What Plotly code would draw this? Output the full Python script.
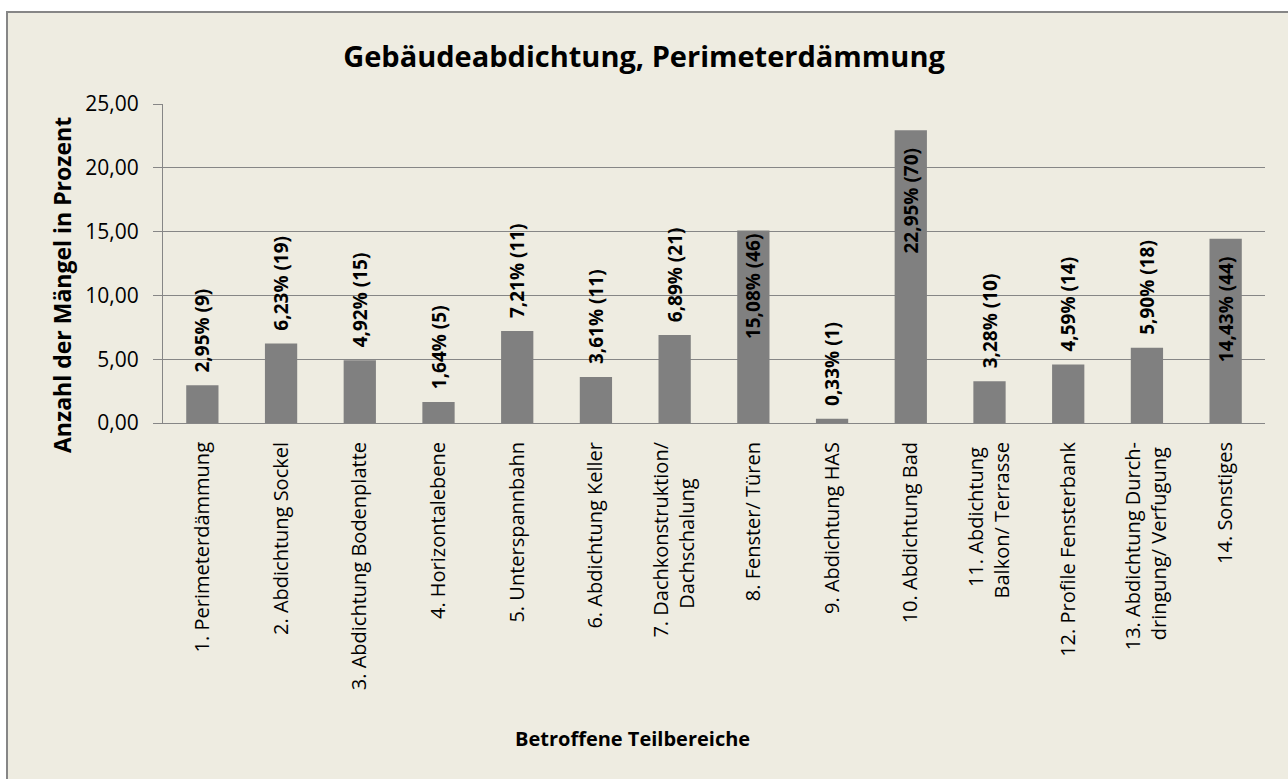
import plotly.graph_objects as go

categories = [
    "1. Perimeterdämmung",
    "2. Abdichtung Sockel",
    "3. Abdichtung Bodenplatte",
    "4. Horizontalebene",
    "5. Unterspannbahn",
    "6. Abdichtung Keller",
    "7. Dachkonstruktion/<br>Dachschalung",
    "8. Fenster/ Türen",
    "9. Abdichtung HAS",
    "10. Abdichtung Bad",
    "11. Abdichtung<br>Balkon/ Terrasse",
    "12. Profile Fensterbank",
    "13. Abdichtung Durch-<br>dringung/ Verfugung",
    "14. Sonstiges",
]
percent = [2.95, 6.23, 4.92, 1.64, 7.21, 3.61, 6.89, 15.08, 0.33, 22.95, 3.28, 4.59, 5.90, 14.43]
counts = [9, 19, 15, 5, 11, 11, 21, 46, 1, 70, 10, 14, 18, 44]

# label styling (Excel "inside end" for tall bars, outside otherwise)
label_pos = ["outside", "outside", "outside", "outside", "outside", "outside", "outside",
             "inside", "outside", "inside", "outside", "outside", "outside", "inside"]
label_pad_bottom = [2, 2, 2, 2, 2, 2, 2, 0, 2, 0, 2, 2, 2, 0]
label_pad_top = [0, 0, 0, 0, 0, 0, 0, 0, 0, 3, 0, 0, 0, 3]

title_text = "Gebäudeabdichtung, Perimeterdämmung"
y_title = "Anzahl der Mängel in Prozent"
x_title = "Betroffene Teilbereiche"

FONT = "Open Sans"
NB = "\u00a0"
W, H = 1288, 779
L, R, T, B = 163, 23, 104, 356
pw, ph = W - L - R, H - T - B

def px_x(x):
    return (x - L) / pw

def px_y(y):
    return (H - B - y) / ph

def center_lines(label, pads):
    parts = label.split("<br>")
    if len(parts) == 1:
        return label
    return "<br>".join(p + NB * n for p, n in zip(parts, pads))

tick_pads = {6: (0, 7), 10: (1, 0), 12: (0, 1)}
tick_text = [center_lines(c, tick_pads.get(i, (0, 0))) for i, c in enumerate(categories)]

templates = [NB * b + "%{y:.2f}% (%{customdata})" + NB * t
             for b, t in zip(label_pad_bottom, label_pad_top)]

xs = list(range(len(categories)))

fig = go.Figure()
fig.add_trace(go.Bar(
    x=xs,
    y=percent,
    customdata=counts,
    marker=dict(color="#808080", line=dict(width=0)),
    texttemplate=templates,
    textposition=label_pos,
    textangle=-90,
    insidetextanchor="end",
    constraintext="none",
    textfont=dict(family=FONT, size=19, color="#000000", weight="bold"),
    cliponaxis=False,
    hoverinfo="skip",
))

fig.update_layout(
    width=W, height=H,
    margin=dict(l=L, r=R, t=T, b=B, autoexpand=False),
    paper_bgcolor="#ffffff",
    plot_bgcolor="#c0c0c0",
    separators=",.",
    bargap=0.59,
    showlegend=False,
    title=dict(text=title_text, x=0.5, xanchor="center", xref="container",
               y=1 - 57 / H, yanchor="middle", yref="container",
               font=dict(family=FONT, size=29, color="#000000", weight="bold")),
    xaxis=dict(
        tickmode="array", tickvals=xs, ticktext=tick_text,
        tickangle=-90, range=[-0.5, len(categories) - 0.5],
        tickfont=dict(family=FONT, size=20, color="#000000"),
        showline=True, linecolor="#868686", linewidth=1,
        ticks="", showgrid=False, zeroline=False,
        ticklabelstandoff=10, automargin=False,
    ),
    yaxis=dict(
        range=[0, 25], dtick=5, tick0=0, tickformat=".2f",
        tickfont=dict(family=FONT, size=21, color="#000000"),
        showline=True, linecolor="#868686", linewidth=1,
        ticks="outside", ticklen=9, tickcolor="#868686",
        showgrid=True, gridcolor="#868686", gridwidth=1,
        zeroline=False, ticklabelstandoff=10, automargin=False,
    ),
    shapes=[dict(type="rect", xref="paper", yref="paper", layer="below",
                 x0=px_x(7), x1=px_x(W + 5), y0=px_y(H + 5), y1=px_y(12),
                 fillcolor="#eeece1", line=dict(color="#868686", width=2))],
    annotations=[
        dict(text=y_title, xref="paper", yref="paper", x=px_x(62), y=px_y(285),
             xanchor="center", yanchor="middle", textangle=-90, showarrow=False,
             font=dict(family=FONT, size=23, color="#000000", weight="bold")),
        dict(text=x_title, xref="paper", yref="paper", x=px_x(632), y=px_y(738),
             xanchor="center", yanchor="middle", showarrow=False,
             font=dict(family=FONT, size=20, color="#000000", weight="bold")),
    ],
)

fig.write_html(
    "out.html",
    config={"displayModeBar": False},
    post_script="document.body.style.margin='0';document.body.style.overflow='hidden';",
)
